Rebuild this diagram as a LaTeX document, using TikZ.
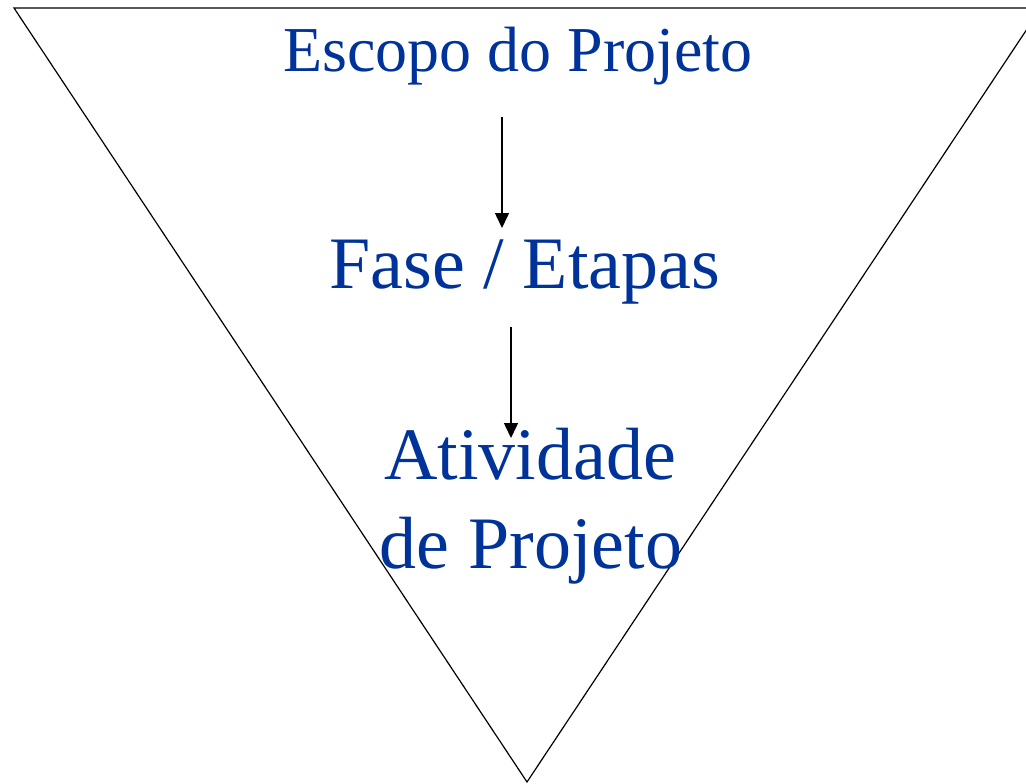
\documentclass[tikz,border=0pt]{standalone}
\usepackage{fontspec}
\setmainfont{Liberation Serif}
\usetikzlibrary{arrows.meta}
\definecolor{txtblue}{RGB}{0,51,153}
\begin{document}
\begin{tikzpicture}[x=1pt,y=-1pt,
  lbl/.style={anchor=base,inner sep=0pt,text=txtblue},
  flow/.style={line width=1.5pt,-{Triangle[width=14pt,length=15pt]}},
  edge/.style={line width=1.2pt,line join=miter}]
\useasboundingbox (0,0) rectangle (1026,784);
\clip (0,0) rectangle (1026,784);
\draw[edge] (14,8) -- (1041,8) -- (527,782) -- cycle;
\node[lbl,font=\fontsize{64}{77}\selectfont] (esc) at (518,71) {Escopo do Projeto};
\node[lbl,font=\fontsize{74}{89}\selectfont] (fase) at (525,288) {Fase / Etapas};
\node[lbl,font=\fontsize{74}{89}\selectfont] (ativ) at (530,479) {Atividade};
\node[lbl,font=\fontsize{74}{89}\selectfont] (proj) at (531,568) {de Projeto};
\coordinate (a1s) at (502,117);
\coordinate (a1e) at (502,228);
\coordinate (a2s) at (511,327);
\coordinate (a2e) at (511,438);
\draw[flow] (a1s) -- (a1e);
\draw[flow] (a2s) -- (a2e);
\end{tikzpicture}
\end{document}
